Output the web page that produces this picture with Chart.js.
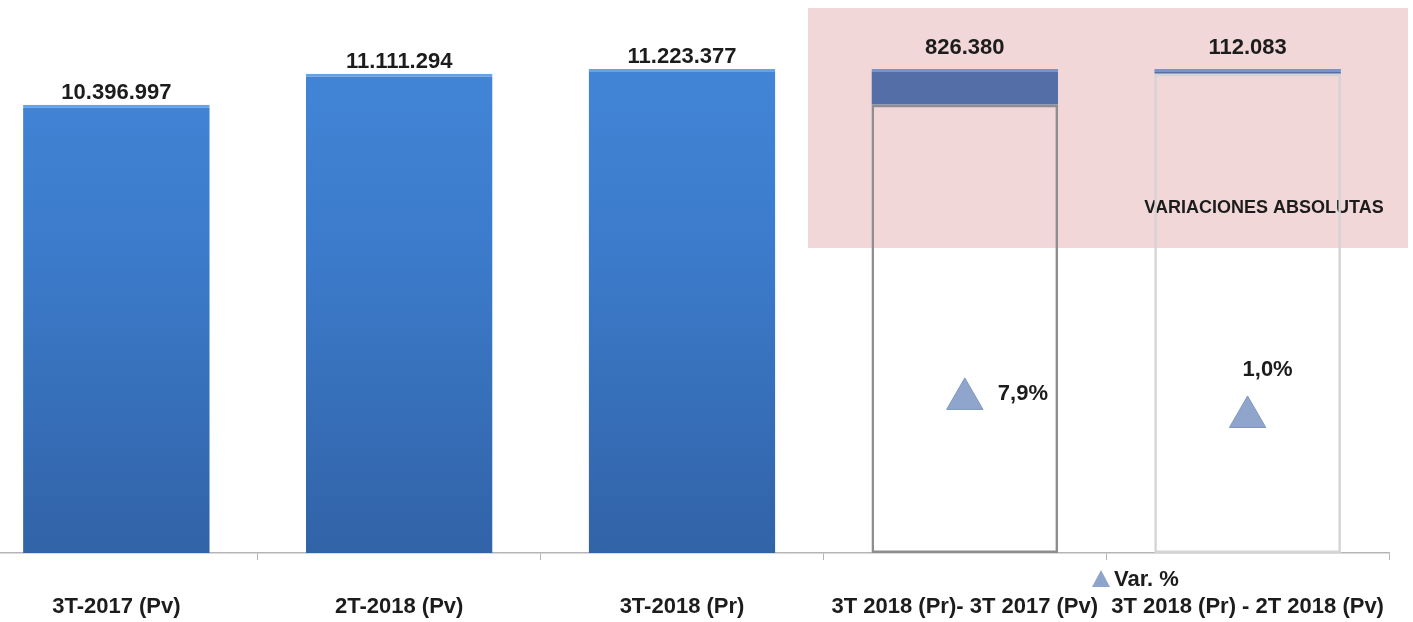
<!DOCTYPE html>
<html>
<head>
<meta charset="utf-8">
<script src="https://cdn.jsdelivr.net/npm/chart.js@4/dist/chart.umd.min.js"></script>
<style>
  html, body { margin: 0; padding: 0; background: #fff; overflow: hidden; }
  #wrap { position: absolute; left: -25px; top: 0; width: 1438px; height: 622px; }
</style>
</head>
<body>
<div id="wrap"><canvas id="myChart"></canvas></div>
<script>
// datos
const categories = ['3T-2017 (Pv)', '2T-2018 (Pv)', '3T-2018 (Pr)', '3T 2018 (Pr)- 3T 2017 (Pv)', '3T 2018 (Pr) - 2T 2018 (Pv)'];
const totals = [10396997, 11111294, 11223377, null, null];
const bases = [null, null, null, 10396997, 11111294];
const variations = [null, null, null, 826380, 112083];
const varPct = [null, null, null, 7.9, 1.0];

const FONT = '"Liberation Sans", Arial, sans-serif';

function fmtNum(v) {
    return String(Math.round(v)).replace(/\B(?=(\d{3})+(?!\d))/g, '.');
}
function fmtPct(v) {
    return v.toFixed(1).replace('.', ',') + '%';
}

function vGradient(ctx, stops, fallback) {
    const area = ctx.chart.chartArea;
    if (!area) return fallback;
    const g = ctx.chart.ctx.createLinearGradient(0, area.top, 0, area.bottom);
    stops.forEach(s => g.addColorStop(s[0], s[1]));
    return g;
}

// recuadro rosado de "variaciones absolutas"
const pinkBox = {
    id: 'pinkBox',
    beforeDatasetsDraw(chart) {
        const ctx = chart.ctx;
        ctx.save();
        ctx.fillStyle = '#f1d7d7';
        ctx.fillRect(833, 8, 600, 240);   // coordenadas del canvas (desplazado -25px)
        ctx.font = 'bold 18px ' + FONT;
        ctx.fillStyle = '#1c1c1c';
        ctx.textAlign = 'center';
        ctx.textBaseline = 'middle';
        ctx.fillText('VARIACIONES ABSOLUTAS', 1289, 208);
        ctx.restore();
    }
};

// etiquetas de valores y leyenda
const valueLabels = {
    id: 'valueLabels',
    afterDatasetsDraw(chart) {
        const ctx = chart.ctx;
        ctx.save();
        ctx.font = 'bold 22px ' + FONT;
        ctx.fillStyle = '#1c1c1c';
        ctx.textAlign = 'center';
        ctx.textBaseline = 'middle';

        [[0, 12], [2, 21]].forEach(([di, gap]) => {
            const meta = chart.getDatasetMeta(di);
            meta.data.forEach((bar, i) => {
                const v = chart.data.datasets[di].data[i];
                if (v == null) return;
                ctx.fillText(fmtNum(v), bar.x, bar.y - gap);
            });
        });

        // porcentajes
        const pm = chart.getDatasetMeta(3);
        pm.data.forEach((pt, i) => {
            const v = varPct[i];
            if (v == null) return;
            if (i === 3) {
                ctx.textAlign = 'left';
                ctx.fillText(fmtPct(v), pt.x + 33, pt.y - 5);
            } else {
                ctx.textAlign = 'center';
                ctx.fillText(fmtPct(v), pt.x + 20, pt.y - 47);
            }
        });

        // leyenda "Var. %"
        const lx = 1126, ly = 580;
        ctx.beginPath();
        ctx.moveTo(lx, ly - 10);
        ctx.lineTo(lx + 9, ly + 7);
        ctx.lineTo(lx - 9, ly + 7);
        ctx.closePath();
        ctx.fillStyle = '#8ea4ca';
        ctx.fill();
        ctx.fillStyle = '#1c1c1c';
        ctx.textAlign = 'left';
        ctx.fillText('Var. %', lx + 13, ly);
        ctx.restore();
    }
};

const data = {
    labels: categories,
    datasets: [
        {
            label: 'Valor',
            data: totals,
            stack: 's',
            backgroundColor: c => vGradient(c, [[0, '#4488da'], [0.45, '#3c7bcb'], [1, '#3163a7']], '#3b7dd0'),
            borderColor: '#66a2e8',
            borderWidth: { top: 3, left: 0, right: 0, bottom: 0 },
            barPercentage: 0.66,
            categoryPercentage: 1,
            order: 2
        },
        {
            label: 'Base',
            data: bases,
            stack: 's',
            backgroundColor: 'rgba(0,0,0,0)',
            borderColor: ['#999', '#999', '#999', '#8e8e8e', '#d4d4d4'],
            borderWidth: 2.5,
            borderSkipped: false,
            barPercentage: 0.66,
            categoryPercentage: 1,
            order: 2
        },
        {
            label: 'Variación',
            data: variations,
            stack: 's',
            backgroundColor: '#546ea8',
            borderColor: '#7994ca',
            borderWidth: { top: 3, left: 0, right: 0, bottom: 0 },
            barPercentage: 0.66,
            categoryPercentage: 1,
            order: 2
        },
        {
            type: 'line',
            label: 'Var. %',
            data: varPct,
            yAxisID: 'y2',
            showLine: false,
            pointStyle: 'triangle',
            pointRadius: 21,
            pointHoverRadius: 21,
            pointBackgroundColor: '#8fa5cb',
            pointBorderColor: '#7f96bf',
            pointBorderWidth: 1,
            order: 1
        }
    ]
};

const config = {
    type: 'bar',
    data: data,
    options: {
        responsive: true,
        maintainAspectRatio: false,
        animation: false,
        layout: { autoPadding: false, padding: { left: 0, right: 24, top: 1, bottom: 2 } },
        scales: {
            x: {
                stacked: true,
                grid: {
                    offset: true,
                    drawOnChartArea: false,
                    tickLength: 7,
                    color: '#b5b5b5'
                },
                border: { display: true, color: '#b5b5b5', width: 1.5 },
                ticks: {
                    autoSkip: false,
                    maxRotation: 0,
                    minRotation: 0,
                    padding: 34,
                    color: '#1c1c1c',
                    font: { family: FONT, size: 22, weight: 'bold' }
                },
                afterFit: (scale) => {
                    scale.paddingLeft = 0;
                    scale.paddingRight = 0;
                    scale.height = 67;  // altura fija del eje
                }
            },
            y: {
                stacked: true,
                display: false,
                min: 0,
                max: 12800000
            },
            y2: {
                display: false,
                stacked: false,
                min: -51,
                max: 160
            }
        },
        plugins: {
            legend: { display: false },
            tooltip: { enabled: false }
        }
    },
    plugins: [pinkBox, valueLabels]
};

const myChart = new Chart(document.getElementById('myChart').getContext('2d'), config);
</script>
</body>
</html>
